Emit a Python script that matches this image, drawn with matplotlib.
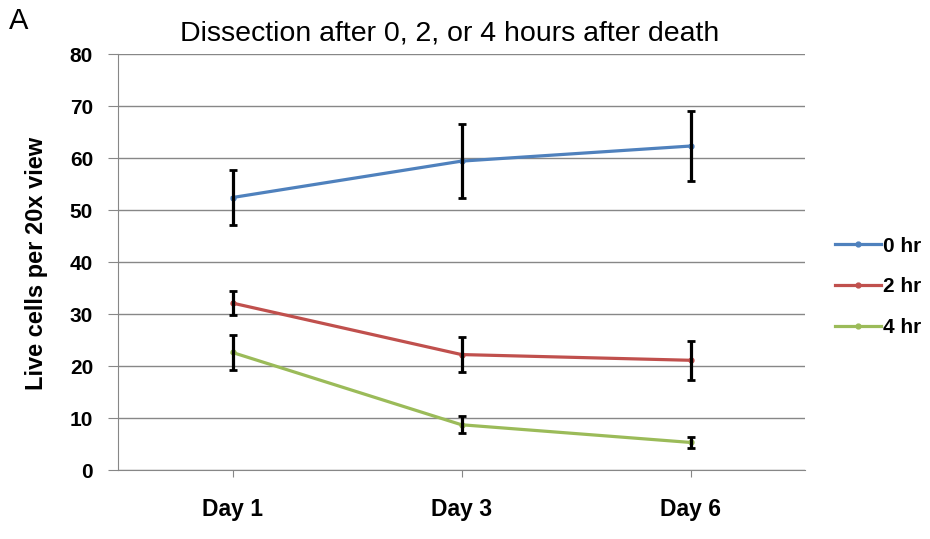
import matplotlib

matplotlib.use("Agg")
import matplotlib.pyplot as plt

plt.rcParams["font.family"] = ["Liberation Sans", "DejaVu Sans"]

# values
days = ["Day 1", "Day 3", "Day 6"]
labels = ["0 hr", "2 hr", "4 hr"]
means = [
    [52.4, 59.4, 62.3],
    [32.1, 22.2, 21.1],
    [22.6, 8.7, 5.3],
]
errs = [
    [5.2, 7.1, 6.7],
    [2.3, 3.4, 3.8],
    [3.3, 1.6, 1.1],
]
colors = ["#4f81bd", "#c0504d", "#9bbb59"]
GRID = "#878787"

fig = plt.figure(figsize=(9.3, 5.39), dpi=100)
ax = fig.add_axes([118 / 930, 1 - 470 / 539, 687 / 930, 416 / 539])

x = list(range(len(days)))
handles = []
for m, e, c, lab in zip(means, errs, colors, labels):
    ax.errorbar(x, m, yerr=e, fmt="none", ecolor="black", elinewidth=2.3,
                capsize=3, capthick=2.0, zorder=4)
    h, = ax.plot(x, m, color=c, lw=2.3, marker="o", ms=3.5, zorder=3, label=lab)
    handles.append(h)

ax.set_xlim(-0.5, len(days) - 0.5)
ax.set_ylim(0, 80)
ax.set_yticks(range(0, 81, 10))
ax.set_xticks(x)
ax.set_xticklabels(days, fontsize=16.5, fontweight="bold")
for t in ax.get_yticklabels():
    t.set_fontsize(15)
    t.set_fontweight("bold")
ax.yaxis.grid(True, color=GRID, lw=1)
ax.set_axisbelow(True)
for s in ("top", "right"):
    ax.spines[s].set_visible(False)
for s in ("left", "bottom"):
    ax.spines[s].set_color(GRID)
ax.tick_params(axis="y", length=7, color=GRID, pad=11)
ax.tick_params(axis="x", length=5, color=GRID, pad=15)
ax.set_ylabel("Live cells per 20x view", fontsize=17, fontweight="bold")
ax.yaxis.set_label_coords(-0.102, (470 - 263) / 416)

fig.text(450 / 930, 1 - 33 / 539, "Dissection after 0, 2, or 4 hours after death",
         fontsize=20.5, ha="center", va="center")
fig.text(9 / 930, 1 - 21 / 539, "A", fontsize=21, ha="left", va="center")

ax.legend(handles=handles, loc="center left", bbox_to_anchor=(1.016, (470 - 287) / 416),
          frameon=False, prop={"weight": "bold", "size": 15},
          handlelength=2.2, handletextpad=0.1, labelspacing=1.05)

fig.savefig("out.png", dpi=100, facecolor="white")
